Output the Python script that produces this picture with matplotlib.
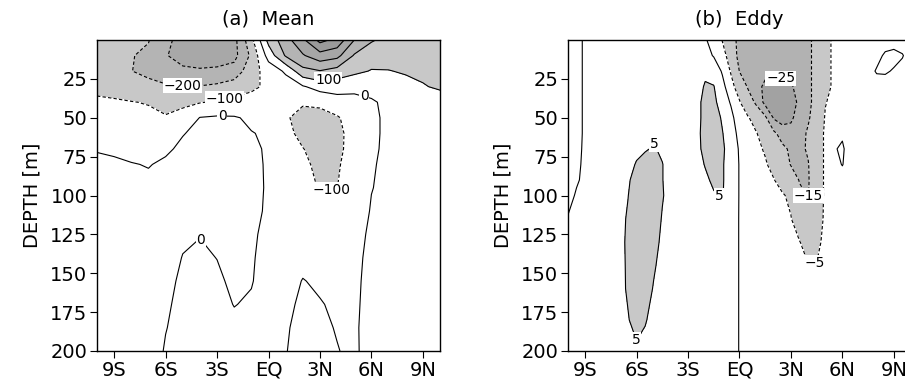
import numpy as np
import matplotlib
matplotlib.use("Agg")
import matplotlib.pyplot as plt

# grids (latitude in degrees, depth in m)
lat_a = np.arange(-10, 11, 1.0)
depth_a = [0, 10, 20, 30, 40, 50, 60, 70, 80, 95, 110, 125, 140, 155, 170, 185, 200]
lat_b = np.arange(-10, 10.5, 0.5)
depth_b = [0, 10, 20, 30, 40, 50, 60, 70, 80, 90, 100, 115, 130, 145, 160, 180, 200]

# (a) mean streamfunction, rows = depth, cols = lat -10..10
mean_vals = [
    [-150, -160, -170, -195, -280, -330, -350, -350, -330, -130, 130, 260, 380, 530, 470, 300, 210, 170, 165, 160, 160],
    [-140, -150, -195, -220, -295, -330, -345, -340, -330, -180, 40, 210, 290, 360, 330, 190, 140, 135, 140, 145, 145],
    [-125, -140, -198, -225, -270, -285, -290, -285, -260, -140, -60, 15, 170, 195, 160, 120, 95, 97, 108, 115, 122],
    [-115, -125, -150, -170, -185, -195, -195, -180, -150, -120, -80, -50, -10, 40, 40, 30, 25, 60, 75, 95, 110],
    [-90, -92, -97, -105, -120, -115, -105, -90, -75, -60, -60, -80, -90, -85, -40, -35, -8, 15, 35, 50, 65],
    [-65, -70, -75, -80, -95, -75, 3, 12, 8, -15, -35, -90, -130, -125, -110, -55, -12, 12, 25, 35, 45],
    [-35, -40, -45, -50, -55, -3, 15, 25, 25, 3, -10, -80, -120, -130, -120, -70, -10, 10, 20, 30, 40],
    [-3, -8, -20, -25, -10, 12, 20, 30, 30, 12, -8, -65, -98, -125, -118, -70, -8, 10, 20, 30, 35],
    [10, 8, 3, -3, 10, 20, 25, 35, 35, 15, -7, -50, -85, -118, -110, -60, -5, 12, 22, 30, 35],
    [25, 25, 20, 15, 25, 25, 25, 35, 35, 18, -7, -40, -70, -106, -101, -50, -2, 15, 25, 30, 35],
    [30, 30, 30, 25, 30, 20, 15, 25, 30, 18, -10, -35, -50, -80, -70, -40, 5, 18, 25, 30, 35],
    [35, 35, 35, 30, 30, 10, 2, 15, 25, 15, -25, -30, -35, -50, -48, -20, 10, 20, 25, 30, 35],
    [35, 35, 35, 30, 25, -2, -10, 1, 20, 10, -35, -25, -15, -25, -30, -15, 15, 22, 25, 30, 35],
    [35, 35, 35, 30, 15, -10, -20, -10, 12, 4, -30, -20, 2, -8, -20, -12, 18, 25, 25, 30, 35],
    [35, 35, 35, 30, 8, -15, -25, -20, 2, -8, -25, -12, 10, 3, -8, -10, 20, 25, 25, 30, 35],
    [35, 35, 35, 30, 2, -18, -25, -25, -15, -20, -20, -5, 15, 10, -3, -8, 22, 25, 25, 30, 35],
    [35, 35, 35, 30, -5, -20, -25, -25, -25, -25, -20, -2, 18, 12, 2, -10, 25, 25, 25, 30, 35],
]

# (b) eddy streamfunction, rows = depth, cols = lat -10..10 every 0.5
eddy_vals = [
    [-2, -1, 0.5, 1.5, 2, 2, 2, 2, 2, 2, 2, 2, 2, 2, 2, 1.5, 0.5, -2, -5.2, -12, -17, -18, -19, -20, -20, -20, -20, -19, -17, -12, -7, -4, -3, -2.5, -2, -2, -1.5, -1.5, -1.5, -1.5, -1.5],
    [-2, -1, 0.5, 1.5, 2, 2, 2, 2, 2, 2, 2, 2, 2, 2, 2, 2, 1.5, -0.3, -3, -7.5, -18.5, -19.5, -20.5, -21, -21, -21, -21, -20, -17, -12, -7, -4, -3, -2.5, -2, -1.5, -1, 0.5, 1, 0.2, -1.5],
    [-2, -1, 0.5, 1.5, 2, 2, 2, 2, 2, 2, 2, 2, 2, 2.5, 2.5, 3, 4, 3, -0.5, -5.5, -15.2, -20, -22, -22.5, -22.5, -22.5, -22.5, -21, -17, -12, -7, -4, -3, -2.5, -2, -1.2, 0.3, 0.4, -0.3, -1, -1.5],
    [-2, -1, 0.5, 1.5, 2, 2, 2, 2, 2, 2, 2, 2, 2, 2, 2, 3, 5.5, 5.2, 1.5, -3, -8, -16, -22, -27, -28, -28, -26, -22, -17, -12, -7, -4, -3, -2.5, -2, -1.5, -1.5, -1.5, -1.5, -1.5, -1.5],
    [-2, -1, 0.5, 1.5, 2, 2, 2, 2, 2, 2, 2, 2, 2, 2, 2, 4, 6, 6, 3, -0.5, -4.5, -10, -17, -28, -31, -31, -29, -23, -17, -12, -5.3, -3.5, -3, -2.5, -2, -2, -1.5, -1.5, -1.5, -1.5, -1.5],
    [-2, -1, 0.5, 1.5, 2, 2, 2, 2, 2, 2, 2, 2, 2, 2, 2, 3.5, 6.5, 7, 4.5, 1.5, -3, -4.5, -8, -13, -26, -30, -27, -20, -16, -11, -4.5, -3, -2.5, -2, -2, -1.5, -1.5, -1.5, -1.5, -1.5, -1.5],
    [-2, -1, 0.5, 1.5, 2, 2, 2, 2, 2.5, 2.5, 4, 2.5, 2, 2, 2, 3.5, 7, 7.5, 5.2, 2.5, -1.5, -3.5, -4.8, -8, -13, -19, -21, -18, -14, -9, -4, -2.5, -0.8, -2.5, -2, -1.5, -1.5, -1.5, -1.5, -1.5, -1.5],
    [-2, -0.9, 0.6, 1.5, 2, 2, 2, 2.2, 3.5, 4.5, 5.5, 4, 2.5, 2, 2, 3.5, 6.5, 7.5, 5.7, 3, -0.5, -2.5, -4, -5.5, -9, -13, -16.5, -17, -14, -9, -4, -0.5, 0.8, -3, -2.5, -2, -1.5, -1.5, -1.5, -1.5, -1.5],
    [-2, -0.8, 0.8, 1.5, 2, 2, 2, 3, 5.5, 7, 8, 5.2, 2.5, 2, 2, 3, 5.3, 7, 5.5, 2.5, -0.2, -2.2, -3, -4.5, -6.5, -10, -15.5, -17, -15.5, -9, -4, -1.5, 0.2, -2.5, -2.5, -2, -1.5, -1.5, -1.5, -1.5, -1.5],
    [-2, -0.5, 1, 1.5, 2, 2, 2.2, 4, 8, 9, 9, 5.2, 2.5, 2, 2, 2.5, 4, 6, 5.5, 2.5, -0.2, -2, -2.8, -3.8, -4.8, -7, -10, -15.5, -15.8, -9, -4, -2.5, -2, -2, -2, -1.5, -1.5, -1.5, -1.5, -1.5, -1.5],
    [-1.5, 0.5, 1.5, 1.5, 2, 2, 2.2, 4.8, 10, 10, 9, 5.5, 2.5, 2, 2, 2, 3, 4.5, 5.3, 2.5, -0.2, -2, -2.5, -3.2, -3.8, -4.5, -6, -13, -15.4, -9, -4, -2.5, -2, -2, -2, -1.5, -1.5, -1.5, -1.5, -1.5, -1.5],
    [0.3, 1, 1.5, 2, 2, 2, 2.3, 6, 11, 10.5, 8.5, 4.5, 2.5, 2, 2, 2, 2.2, 2.5, 3.2, 2, -0.2, -1.8, -2.2, -2.6, -3, -3.5, -4.8, -8, -10, -8, -4, -2.5, -2, -2, -2, -1.5, -1.5, -1.5, -1.5, -1.5, -1.5],
    [0.8, 1.2, 1.5, 2, 2, 2, 2.5, 6.5, 11.5, 10, 7.5, 3.5, 2.5, 2, 2, 2, 2, 2, 2.5, 2, -0.2, -1.8, -2, -2.3, -2.6, -3, -3.5, -4.8, -7, -6.5, -3.5, -2.5, -2, -2, -2, -1.5, -1.5, -1.5, -1.5, -1.5, -1.5],
    [1.2, 1.5, 1.5, 2, 2, 2, 2.5, 6.2, 11, 9, 5.8, 2.8, 2.5, 2, 2, 2, 2, 2, 2.2, 2, -0.2, -1.5, -1.8, -2, -2.2, -2.5, -2.8, -3, -4.8, -4.8, -3, -2.5, -2, -2, -2, -1.5, -1.5, -1.5, -1.5, -1.5, -1.5],
    [1.5, 1.5, 1.5, 2, 2, 2, 2.5, 6, 10, 8, 4.5, 2.5, 2.5, 2, 2, 2, 2, 2, 2, 2, -0.2, -1.5, -1.8, -2, -2, -2.2, -2.5, -2.5, -3, -3, -2.5, -2, -2, -2, -2, -1.5, -1.5, -1.5, -1.5, -1.5, -1.5],
    [1.5, 1.5, 1.5, 2, 2, 2, 2.5, 4.5, 8, 5.5, 3, 2.5, 2, 2, 2, 2, 2, 2, 2, 2, -0.2, -1.5, -1.8, -2, -2, -2, -2, -2, -2.5, -2.5, -2, -2, -2, -2, -2, -1.5, -1.5, -1.5, -1.5, -1.5, -1.5],
    [1.5, 1.5, 1.5, 2, 2, 2, 2.5, 3, 3.5, 3, 2.5, 2.5, 2, 2, 2, 2, 2, 2, 2, 2, -0.2, -1.5, -1.8, -2, -2, -2, -2, -2, -2, -2, -2, -2, -2, -2, -2, -1.5, -1.5, -1.5, -1.5, -1.5, -1.5],
]

lat_ticks = [-9, -6, -3, 0, 3, 6, 9]
lat_labels = ["9S", "6S", "3S", "EQ", "3N", "6N", "9N"]
depth_ticks = [25, 50, 75, 100, 125, 150, 175, 200]

mean_lines = [-300, -200, -100, 0, 100, 200, 300, 400, 500]
mean_fill = [-1000, -300, -200, -100, 100, 200, 300, 400, 500, 1000]
mean_colors = ["#a8a8a8", "#b4b4b4", "#c8c8c8", "white", "#c8c8c8", "#b4b4b4",
               "#a6a6a6", "#9a9a9a", "#8e8e8e"]
eddy_lines = [-25, -15, -5, 0, 5]
eddy_fill = [-100, -25, -15, -5, 5, 100]
eddy_colors = ["#a2a2a2", "#b2b2b2", "#c8c8c8", "white", "#c8c8c8"]

# where the contour labels sit (lat, depth)
mean_label_at = [(-5.0, 29), (-2.6, 36), (-2.7, 48), (3.5, 28), (5.6, 35),
                 (3.7, 98), (-3.9, 128)]
eddy_label_at = [(2.4, 25), (-5.0, 67), (-1.1, 99), (4.0, 100), (4.4, 143),
                 (-6.1, 193)]

plt.rcParams["font.family"] = "DejaVu Sans"


def fmt(v):
    return f"{v:.0f}".replace("-", "\u2212")


def panel(ax, lat, depth, vals, fill, colors, lines, label_at, title):
    ax.contourf(lat, depth, vals, levels=fill, colors=colors)
    styles = [(0, (3, 2)) if v < 0 else "solid" for v in lines]
    cs = ax.contour(lat, depth, vals, levels=lines, colors="k",
                    linewidths=0.8, linestyles=styles)
    labs = ax.clabel(cs, levels=lines, manual=label_at, inline=False,
                     fontsize=10, fmt=fmt)
    for t in labs:
        t.set_rotation(0)
        t.set_bbox(dict(facecolor="white", edgecolor="none", pad=0.5))
    ax.set_xlim(-10, 10)
    ax.set_ylim(200, 0)
    ax.set_xticks(lat_ticks)
    ax.set_xticklabels(lat_labels)
    ax.set_yticks(depth_ticks)
    ax.tick_params(direction="out", length=5, width=0.8, labelsize=14, pad=2)
    ax.set_ylabel("DEPTH [m]", fontsize=14, labelpad=6)
    ax.set_title(title, fontsize=14, pad=11)
    for s in ax.spines.values():
        s.set_linewidth(1.0)


fig = plt.figure(figsize=(9.05, 3.82), dpi=100)
ax1 = fig.add_axes([0.1072, 0.0812, 0.379, 0.814])
ax2 = fig.add_axes([0.6276, 0.0812, 0.379, 0.814])

panel(ax1, lat_a, depth_a, mean_vals, mean_fill, mean_colors, mean_lines,
      mean_label_at, "(a)  Mean")
panel(ax2, lat_b, depth_b, eddy_vals, eddy_fill, eddy_colors, eddy_lines,
      eddy_label_at, "(b)  Eddy")

fig.savefig("out.png", dpi=100)
